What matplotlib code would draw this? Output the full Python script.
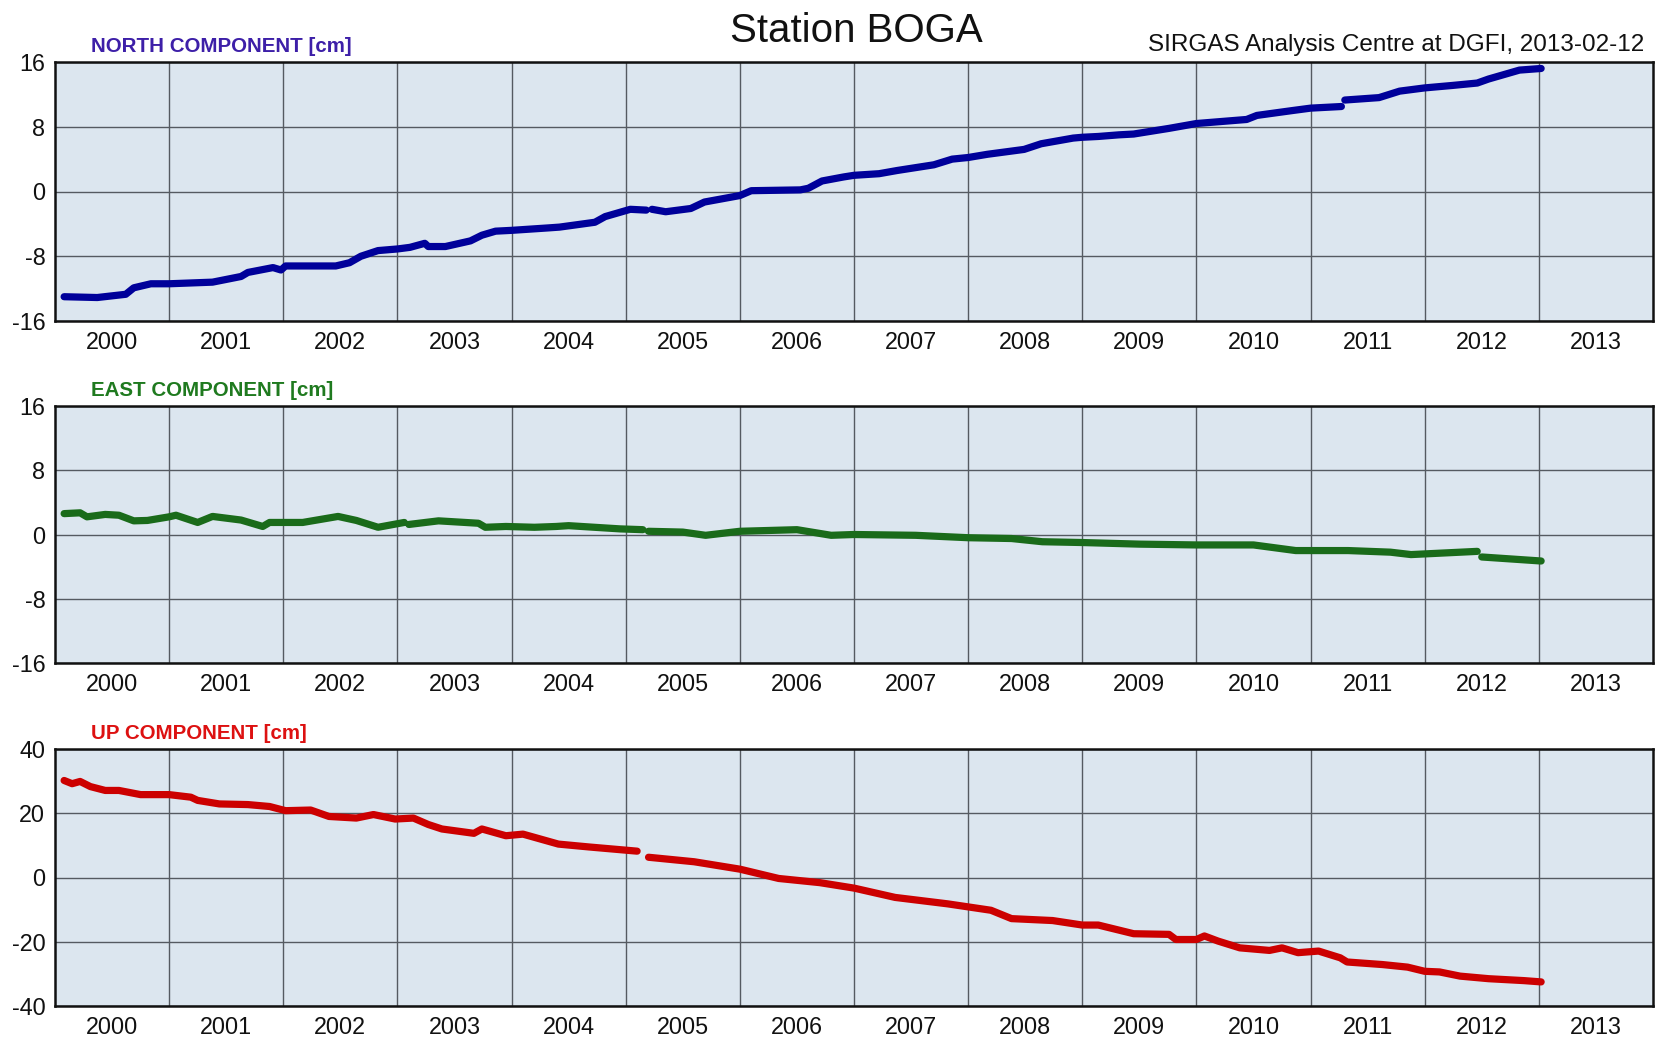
import numpy as np
import matplotlib
matplotlib.use("Agg")
import matplotlib.pyplot as plt

nan = np.nan

# ---- data (decimal year, cm) ----
north_t = [2000.08, 2000.37, 2000.62, 2000.69, 2000.84, 2001.0, 2001.38, 2001.63, 2001.69, 2001.91,
           2001.98, 2002.02, 2002.46, 2002.58, 2002.68, 2002.83, 2003.0, 2003.11, 2003.24, 2003.27,
           2003.42, 2003.64, 2003.74, 2003.86, 2004.0, 2004.32, 2004.42, 2004.73, 2004.82, 2005.04,
           2005.18, 2005.205, 2005.23, 2005.35, 2005.57, 2005.69, 2006.0, 2006.1, 2006.53, 2006.6,
           2006.72, 2006.91, 2007.0, 2007.22, 2007.38, 2007.7, 2007.86, 2008.0, 2008.17, 2008.49,
           2008.64, 2008.92, 2009.0, 2009.14, 2009.32, 2009.45, 2009.76, 2010.0, 2010.44, 2010.53,
           2010.84, 2011.0, 2011.27, 2011.285, 2011.3, 2011.6, 2011.78, 2012.0, 2012.24, 2012.46,
           2012.56, 2012.83, 2013.02]
north_v = [-13.0, -13.1, -12.7, -11.9, -11.4, -11.4, -11.2, -10.5, -10.0, -9.4,
           -9.7, -9.2, -9.2, -8.8, -8.0, -7.3, -7.1, -6.9, -6.4, -6.8,
           -6.8, -6.1, -5.4, -4.9, -4.8, -4.5, -4.4, -3.8, -3.1, -2.2,
           -2.3, nan, -2.2, -2.5, -2.1, -1.3, -0.5, 0.1, 0.2, 0.4,
           1.3, 1.8, 2.0, 2.2, 2.6, 3.3, 4.0, 4.2, 4.6, 5.2,
           5.9, 6.6, 6.7, 6.8, 7.0, 7.1, 7.8, 8.4, 8.9, 9.4,
           10.0, 10.3, 10.5, nan, 11.3, 11.6, 12.4, 12.8, 13.1, 13.4,
           13.9, 15.0, 15.2]

east_t = [2000.08, 2000.22, 2000.28, 2000.44, 2000.56, 2000.69, 2000.81, 2001.0, 2001.06, 2001.25,
          2001.38, 2001.63, 2001.82, 2001.88, 2002.17, 2002.48, 2002.64, 2002.83, 2003.06, 2003.08,
          2003.1, 2003.36, 2003.71, 2003.77, 2003.95, 2004.2, 2004.39, 2004.5, 2004.95, 2005.15,
          2005.17, 2005.2, 2005.5, 2005.7, 2006.0, 2006.5, 2006.8, 2007.0, 2007.54, 2008.0,
          2008.38, 2008.65, 2009.0, 2009.5, 2010.0, 2010.5, 2010.87, 2011.33, 2011.7, 2011.88,
          2012.46, 2012.48, 2012.5, 2013.02]
east_v = [2.6, 2.7, 2.2, 2.5, 2.4, 1.7, 1.75, 2.2, 2.4, 1.5,
          2.25, 1.8, 1.0, 1.5, 1.5, 2.25, 1.75, 0.9, 1.5, nan,
          1.25, 1.7, 1.4, 0.9, 1.0, 0.9, 1.0, 1.1, 0.7, 0.6,
          nan, 0.4, 0.3, -0.1, 0.4, 0.6, -0.1, 0.0, -0.1, -0.4,
          -0.5, -0.9, -1.0, -1.2, -1.3, -1.3, -2.0, -2.0, -2.2, -2.5,
          -2.1, nan, -2.8, -3.3]

up_t = [2000.08, 2000.15, 2000.22, 2000.31, 2000.44, 2000.56, 2000.75, 2001.0, 2001.19, 2001.25,
        2001.44, 2001.69, 2001.88, 2002.02, 2002.24, 2002.4, 2002.64, 2002.79, 2002.98, 2003.14,
        2003.27, 2003.39, 2003.67, 2003.74, 2003.95, 2004.1, 2004.41, 2004.68, 2005.1, 2005.15,
        2005.2, 2005.6, 2006.0, 2006.34, 2006.7, 2007.0, 2007.36, 2007.82, 2008.2, 2008.38,
        2008.74, 2009.0, 2009.14, 2009.45, 2009.76, 2009.82, 2010.0, 2010.07, 2010.19, 2010.38,
        2010.64, 2010.75, 2010.89, 2011.07, 2011.26, 2011.32, 2011.63, 2011.85, 2012.0, 2012.13,
        2012.31, 2012.56, 2012.87, 2013.02]
up_v = [30.2, 29.2, 29.9, 28.3, 27.1, 27.1, 25.8, 25.8, 25.0, 24.0,
        22.9, 22.7, 22.1, 20.8, 21.0, 19.0, 18.5, 19.6, 18.2, 18.5,
        16.5, 15.1, 13.75, 15.1, 13.0, 13.5, 10.4, 9.5, 8.2, nan,
        6.3, 4.9, 2.6, -0.3, -1.6, -3.3, -6.2, -8.2, -10.2, -12.8,
        -13.4, -14.8, -14.8, -17.5, -17.7, -19.3, -19.3, -18.2, -19.8, -21.9,
        -22.7, -21.9, -23.4, -22.9, -25.0, -26.3, -27.1, -27.9, -29.2, -29.4,
        -30.7, -31.5, -32.1, -32.5]

year_labels = [str(y) for y in range(2000, 2014)]
ne_ticks = [-16, -8, 0, 8, 16]
up_ticks = [-40, -20, 0, 20, 40]

panel_titles = ["NORTH COMPONENT [cm]", "EAST COMPONENT [cm]", "UP COMPONENT [cm]"]

# ---- figure ----
plt.rcParams['font.family'] = ['Liberation Sans', 'DejaVu Sans']
W, H = 1656, 1038
fig = plt.figure(figsize=(W / 100, H / 100), dpi=100)

left_px, right_px = 55, 1653
panels_px = [(62, 321), (406, 663), (749, 1006)]
series = [(north_t, north_v, '#00009a', '#3d1fa8', ne_ticks),
          (east_t, east_v, '#1a6b1a', '#1f7a1f', ne_ticks),
          (up_t, up_v, '#cc0000', '#dd1111', up_ticks)]

for (top, bot), (t, v, col, lcol, yt), ptitle in zip(panels_px, series, panel_titles):
    ax = fig.add_axes([left_px / W, 1 - bot / H, (right_px - left_px) / W, (bot - top) / H])
    ax.set_facecolor('#dce6ef')
    ax.plot(t, v, color=col, lw=5.2, solid_capstyle='round', solid_joinstyle='round', zorder=3)
    ax.set_xlim(2000, 2014)
    ax.set_ylim(yt[0], yt[-1])
    ax.set_yticks(yt)
    ax.set_yticklabels([str(x) for x in yt])
    ax.set_xticks(range(2001, 2014))
    ax.set_xticklabels([])
    ax.set_xticks([y + 0.5 for y in range(2000, 2014)], minor=True)
    ax.set_xticklabels(year_labels, minor=True)
    ax.tick_params(axis='both', which='both', length=0, labelsize=16.8, colors='#111111')
    ax.tick_params(axis='y', pad=7)
    ax.tick_params(axis='x', which='minor', pad=7)
    ax.grid(True, which='major', color='#555a61', lw=1.0, zorder=1)
    for s in ax.spines.values():
        s.set_color('#111111')
        s.set_linewidth(1.8)
    fig.text(91 / W, 1 - (top - 10) / H, ptitle, color=lcol, fontsize=14.8,
             fontweight='bold', ha='left', va='baseline')

fig.text(856 / W, 1 - 42 / H, "Station BOGA", fontsize=29, ha='center', va='baseline', color='#111111')
fig.text(1644 / W, 1 - 51 / H, "SIRGAS Analysis Centre at DGFI, 2013-02-12", fontsize=17.5,
         ha='right', va='baseline', color='#111111')

fig.savefig('out.png', dpi=100, facecolor='white')
